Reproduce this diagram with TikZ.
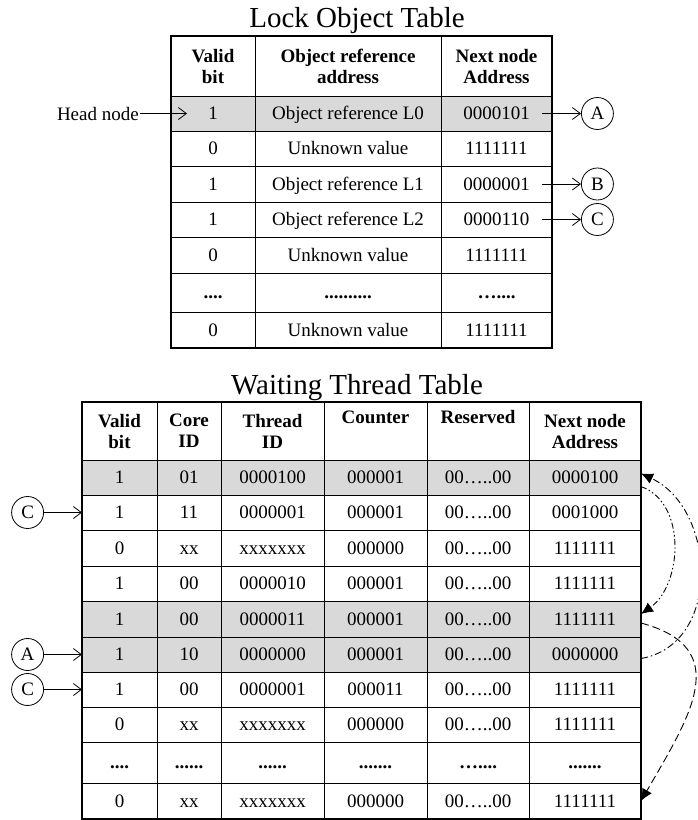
\documentclass[tikz,border=0pt]{standalone}
\usepackage{fontspec}
\setmainfont{Liberation Serif}
\usetikzlibrary{arrows.meta,positioning}

% one table cell: [extra style]{name}{x left}{x right}{y top}{y bottom}{text}
\newcommand{\cellbox}[7][]{%
  \node[cell,#1,minimum width={(#4-#3)*1pt},minimum height={(#6-#5)*1pt}]
    (#2) at ({(#3+#4)/2},{(#5+#6)/2}) {#7};}

\tikzset{
  cell/.style={draw, line width=0.9pt, inner sep=0pt, outer sep=0pt, align=center,
    font=\fontsize{19}{21}\selectfont},
  headcell/.style={cell, font=\fontsize{19}{21}\selectfont\bfseries},
  rowcell/.style={text height=14pt, text depth=2pt},
  tabframe/.style={draw, line width=1.6pt},
  tabtitle/.style={anchor=base, inner sep=0pt, font=\fontsize{29}{32}\selectfont},
  tag/.style={draw, circle, minimum size=32pt, inner sep=0pt, line width=0.8pt,
    font=\fontsize{19}{21}\selectfont},
  link/.style={line width=0.8pt, -{Straight Barb[length=8pt,width=12pt]}},
  jump/.style={line width=0.9pt, -{Latex[length=12pt,width=11pt]}},
}

\begin{document}
\begin{tikzpicture}[x=1pt, y=-1pt]
    \useasboundingbox (0,0) rectangle (698,820);

    % Lock Object Table
    \node[tabtitle] (lottitle) at (357,27) {Lock Object Table};
    \cellbox[headcell]{lot-0-1}{171}{255}{36}{96}{Valid\\bit}
    \cellbox[headcell]{lot-0-2}{255}{441}{36}{96}{Object reference\\address}
    \cellbox[headcell]{lot-0-3}{441}{552}{36}{96}{Next node\\Address}
    \foreach \r/\yt/\yb/\fillc/\vbit/\oref/\nxt in {
        1/96/131/black!15/1/Object reference L0/0000101,
        2/131/166/white/0/Unknown value/1111111,
        3/166/202/white/1/Object reference L1/0000001,
        4/202/237/white/1/Object reference L2/0000110,
        5/237/273/white/0/Unknown value/1111111,
        6/273/312/white/\textbf{....}/\textbf{..........}/\textbf{…....},
        7/312/348/white/0/Unknown value/1111111}{
      \cellbox[rowcell,fill=\fillc]{lot-\r-1}{171}{255}{\yt}{\yb}{\vbit}
      \cellbox[rowcell,fill=\fillc]{lot-\r-2}{255}{441}{\yt}{\yb}{\oref}
      \cellbox[rowcell,fill=\fillc]{lot-\r-3}{441}{552}{\yt}{\yb}{\nxt}
    }
    \draw[tabframe] (lot-0-1.north west) rectangle (lot-7-3.south east);

    \node[inner sep=1pt, left=31pt of lot-1-1, font=\fontsize{19}{21}\selectfont] (headnode) {Head node};
    \draw[link] (headnode) -- ([xshift=16pt]lot-1-1.west);

    \node[tag, right=29pt of lot-1-3] (lotA) {A};
    \node[tag, right=29pt of lot-3-3] (lotB) {B};
    \node[tag, right=29pt of lot-4-3] (lotC) {C};
    \draw[link] ([xshift=-10pt]lot-1-3.east) -- (lotA);
    \draw[link] ([xshift=-10pt]lot-3-3.east) -- (lotB);
    \draw[link] ([xshift=-10pt]lot-4-3.east) -- (lotC);

    % Waiting Thread Table
    \node[tabtitle] (wtttitle) at (357,394) {Waiting Thread Table};
    \cellbox[headcell]{wtt-0-1}{82}{157}{402}{460}{Valid\\bit}
    \cellbox[headcell]{wtt-0-2}{157}{221}{402}{460}{Core\\ID}
    \cellbox[headcell]{wtt-0-3}{221}{324}{402}{460}{Thread\\ID}
    \cellbox[headcell]{wtt-0-4}{324}{427}{402}{460}{Counter\\\strut}
    \cellbox[headcell]{wtt-0-5}{427}{529}{402}{460}{Reserved\\\strut}
    \cellbox[headcell]{wtt-0-6}{529}{641}{402}{460}{Next node\\Address}
    \foreach \r/\yt/\yb/\fillc/\vbit/\core/\tid/\cnt/\res/\nxt in {
        1/460/495/black!15/1/01/0000100/000001/00…..00/0000100,
        2/495/530/white/1/11/0000001/000001/00…..00/0001000,
        3/530/566/white/0/xx/xxxxxxx/000000/00…..00/1111111,
        4/566/601/white/1/00/0000010/000001/00…..00/1111111,
        5/601/637/black!15/1/00/0000011/000001/00…..00/1111111,
        6/637/672/black!15/1/10/0000000/000001/00…..00/0000000,
        7/672/707/white/1/00/0000001/000011/00…..00/1111111,
        8/707/742/white/0/xx/xxxxxxx/000000/00…..00/1111111,
        9/742/783/white/\textbf{....}/\textbf{......}/\textbf{......}/\textbf{.......}/\textbf{…....}/\textbf{.......},
        10/783/819/white/0/xx/xxxxxxx/000000/00…..00/1111111}{
      \cellbox[rowcell,fill=\fillc]{wtt-\r-1}{82}{157}{\yt}{\yb}{\vbit}
      \cellbox[rowcell,fill=\fillc]{wtt-\r-2}{157}{221}{\yt}{\yb}{\core}
      \cellbox[rowcell,fill=\fillc]{wtt-\r-3}{221}{324}{\yt}{\yb}{\tid}
      \cellbox[rowcell,fill=\fillc]{wtt-\r-4}{324}{427}{\yt}{\yb}{\cnt}
      \cellbox[rowcell,fill=\fillc]{wtt-\r-5}{427}{529}{\yt}{\yb}{\res}
      \cellbox[rowcell,fill=\fillc]{wtt-\r-6}{529}{641}{\yt}{\yb}{\nxt}
    }
    \draw[tabframe] (wtt-0-1.north west) rectangle (wtt-10-6.south east);

    \node[tag, left=38pt of wtt-2-1] (wttC1) {C};
    \node[tag, left=38pt of wtt-6-1] (wttA) {A};
    \node[tag, left=38pt of wtt-7-1] (wttC2) {C};
    \draw[link] (wttC1) -- (wtt-2-1);
    \draw[link] (wttA) -- (wtt-6-1);
    \draw[link] (wttC2) -- (wtt-7-1);

    % next node links
    \draw[jump, dash pattern=on 7pt off 3pt on 1.5pt off 3pt]
      ([yshift=-4pt]wtt-6-6.east) to[out=10, in=-25, looseness=1.15] ([yshift=4pt]wtt-1-6.east);
    \draw[jump, dash pattern=on 6pt off 2.5pt on 1.5pt off 2.5pt on 1.5pt off 2.5pt]
      ([yshift=-9pt]wtt-1-6.east) to[out=-20, in=35, looseness=1] ([yshift=5pt]wtt-5-6.east);
    \draw[jump, dash pattern=on 8pt off 4pt]
      ([yshift=-4pt]wtt-5-6.east) to[out=-15, in=60, looseness=1.4] (wtt-10-6.east);
\end{tikzpicture}
\end{document}
